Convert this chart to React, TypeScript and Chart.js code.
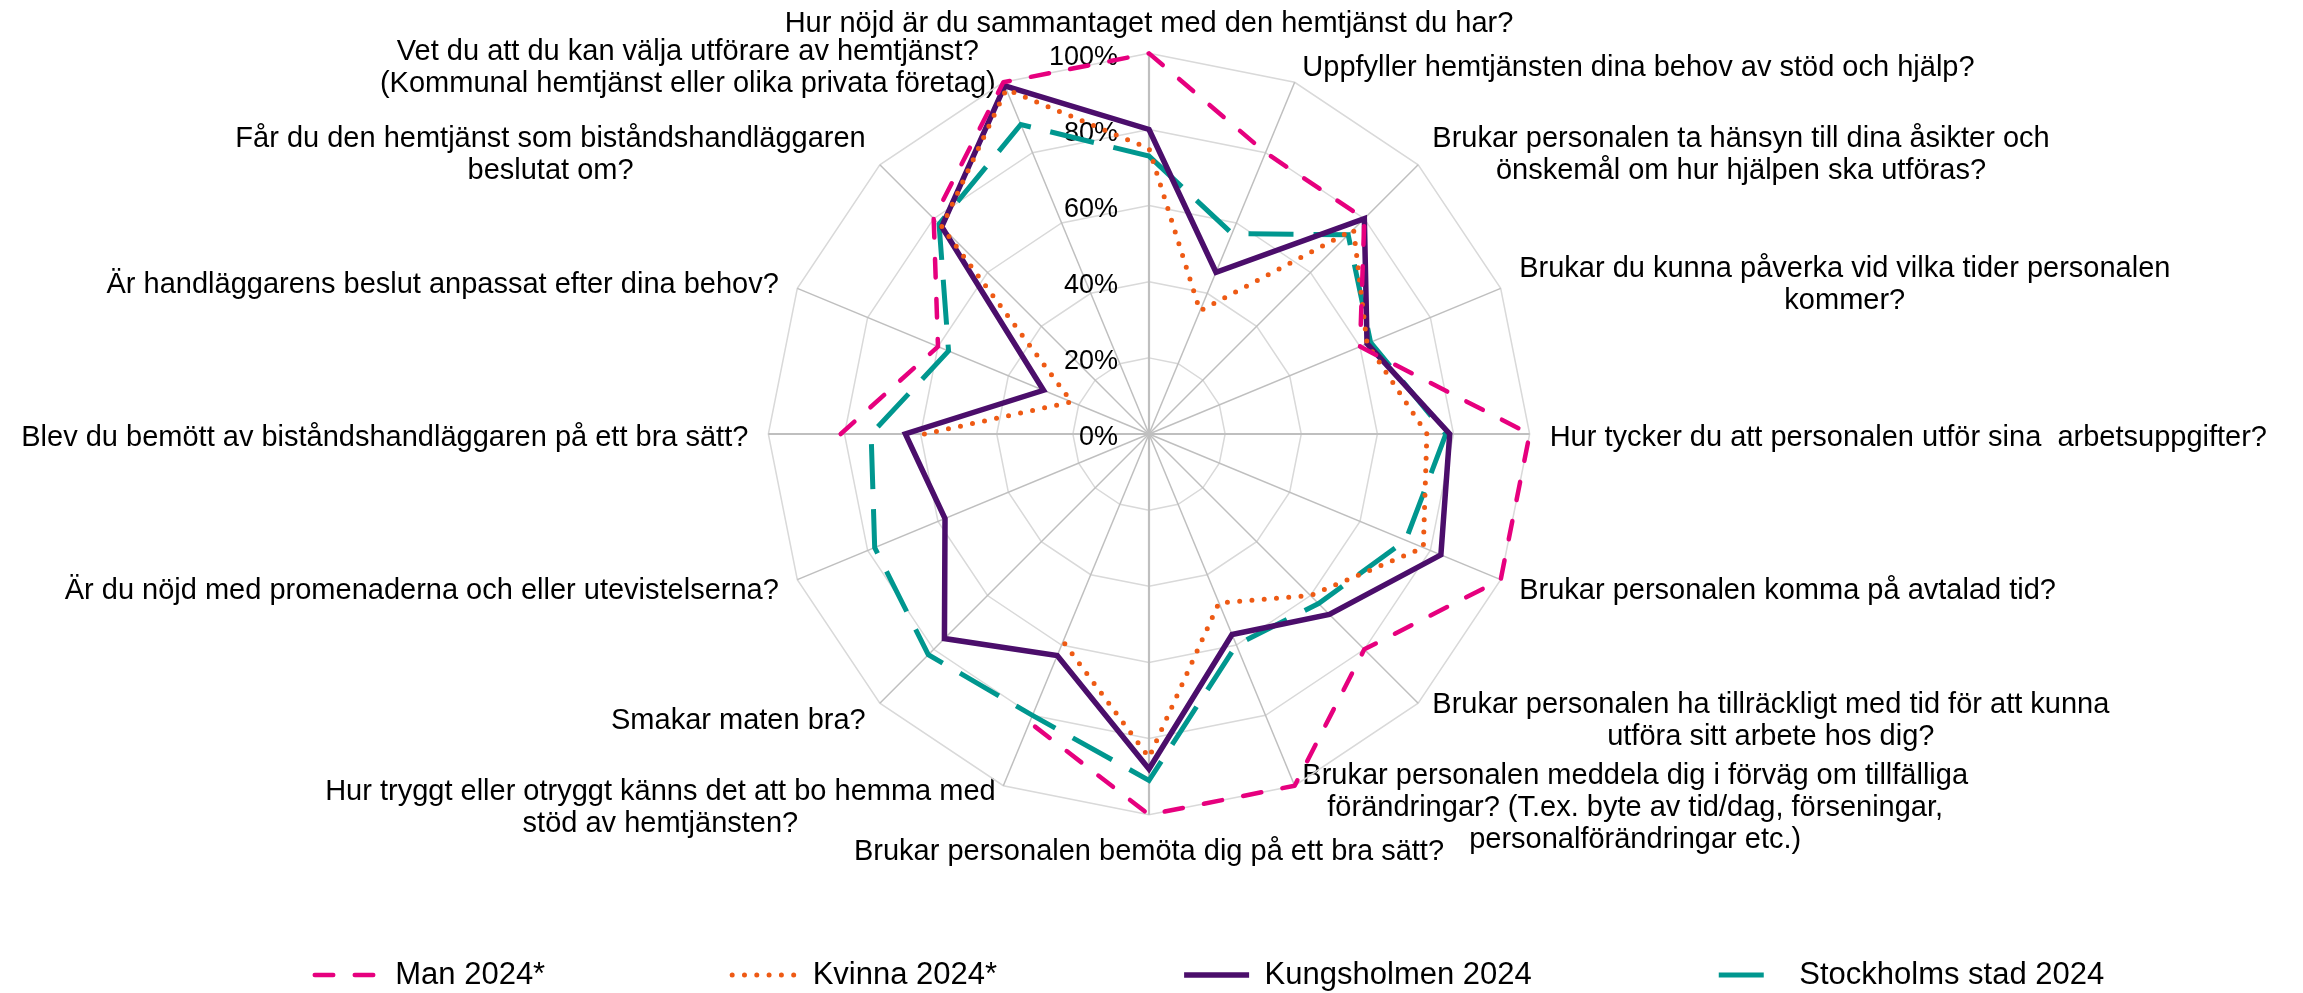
import React, { useEffect, useRef } from 'react';
import { Chart, registerables } from 'chart.js';

Chart.register(...registerables);

// ---------- data ----------
const questions: (string | string[])[] = [
  'Hur nöjd är du sammantaget med den hemtjänst du har?',
  'Uppfyller hemtjänsten dina behov av stöd och hjälp?',
  ['Brukar personalen ta hänsyn till dina åsikter och', 'önskemål om hur hjälpen ska utföras?'],
  ['Brukar du kunna påverka vid vilka tider personalen', 'kommer?'],
  'Hur tycker du att personalen utför sina  arbetsuppgifter?',
  'Brukar personalen komma på avtalad tid?',
  ['Brukar personalen ha tillräckligt med tid för att kunna', 'utföra sitt arbete hos dig?'],
  ['Brukar personalen meddela dig i förväg om tillfälliga', 'förändringar? (T.ex. byte av tid/dag, förseningar,', 'personalförändringar etc.)'],
  'Brukar personalen bemöta dig på ett bra sätt?',
  ['Hur tryggt eller otryggt känns det att bo hemma med', 'stöd av hemtjänsten?'],
  'Smakar maten bra?',
  'Är du nöjd med promenaderna och eller utevistelserna?',
  'Blev du bemött av biståndshandläggaren på ett bra sätt?',
  'Är handläggarens beslut anpassat efter dina behov?',
  ['Får du den hemtjänst som biståndshandläggaren', 'beslutat om?'],
  ['Vet du att du kan välja utförare av hemtjänst?', '(Kommunal hemtjänst eller olika privata företag)'],
];

const seriesNames = ['Man 2024*', 'Kvinna 2024*', 'Kungsholmen 2024', 'Stockholms stad 2024'];

const man2024: (number | null)[] = [100, 80, 80, 60, 100, 100, 80, 100, 100, 82, null, null, 81, 60, 80, 100];
const kvinna2024: (number | null)[] = [75, 35, 76, 62, 73, 78, 60, 48, 85, 59, null, null, 59, 22, 77, 98];
const kungsholmen2024: (number | null)[] = [80, 46, 80, 62, 79, 83, 67, 57, 88, 63, 76, 58, 64, 30, 77, 99];
const stockholm2024: (number | null)[] = [73, 57, 74, 63, 78, 73, 63, 60, 91, 80, 82, 78, 73, 57, 78, 88];

const scaleMin = 0;
const scaleMax = 100;
const scaleStep = 20;
const tickSuffix = '%';

// ---------- styling ----------
const FONT = '"Liberation Sans", Arial, Helvetica, sans-serif';
const LABEL_GAP_SIDE = 20;
const LABEL_GAP_VERT = 17;
const LABEL_Y_SHIFT = 4;
const TICK_X_OFFSET = 31;
const TICK_Y_OFFSET = 4;
const LEGEND_DX = 65;
const LEGEND_TARGET_ITEM_TOP = 959.5;

function placeLabels(scale: any) {
  const items = scale._pointLabelItems;
  if (!items) return;
  const n = items.length;
  scale._pointLabelItems = items.map((it: any, i: number) => {
    const w = it.right - it.left;
    const h = it.bottom - it.top;
    const deg = (360 / n) * i;
    const vertical = deg === 0 || deg === 180;
    const p = scale.getPointPosition(i, scale.drawingArea + (vertical ? LABEL_GAP_VERT : LABEL_GAP_SIDE));
    let cx: number;
    let top: number;
    if (deg === 0) {
      cx = p.x;
      top = p.y - h;
    } else if (deg === 180) {
      cx = p.x;
      top = p.y;
    } else {
      cx = deg < 180 ? p.x + w / 2 : p.x - w / 2;
      top = p.y - h / 2;
    }
    top += LABEL_Y_SHIFT;
    return { ...it, x: cx, y: top, textAlign: 'center', left: cx - w / 2, right: cx + w / 2, top, bottom: top + h };
  });
}

const tickLabelPlugin = {
  id: 'excelTickLabels',
  beforeDatasetsDraw(chart: any) {
    const s = chart.scales.r;
    const ctx = chart.ctx;
    ctx.save();
    ctx.font = `27px ${FONT}`;
    ctx.fillStyle = '#000000';
    ctx.textAlign = 'right';
    ctx.textBaseline = 'middle';
    s.ticks.forEach((t: any) => {
      const d = s.getDistanceFromCenterForValue(t.value);
      ctx.fillText(`${t.value}${tickSuffix}`, s.xCenter - TICK_X_OFFSET, s.yCenter - d + TICK_Y_OFFSET);
    });
    ctx.restore();
  },
};

const legendShiftPlugin = {
  id: 'legendShift',
  afterLayout(chart: any) {
    const lg = chart.legend;
    if (!lg) return;
    const pad = lg.options.labels.padding;
    const dy = LEGEND_TARGET_ITEM_TOP - (lg.top + pad);
    lg.left += LEGEND_DX;
    lg.right += LEGEND_DX;
    lg.top += dy;
    lg.bottom = chart.height;
  },
};

export default function App() {
  const canvasRef = useRef<HTMLCanvasElement | null>(null);

  useEffect(() => {
    if (!canvasRef.current) return;
    const mk = (
      label: string,
      data: (number | null)[],
      color: string,
      width: number,
      dash: number[],
      cap: CanvasLineCap,
      join: CanvasLineJoin
    ) => ({
      label,
      data,
      borderColor: color,
      backgroundColor: color,
      borderWidth: width,
      borderDash: dash,
      borderCapStyle: cap,
      borderJoinStyle: join,
      fill: false,
      pointRadius: 0,
      pointHoverRadius: 0,
      spanGaps: false,
    });

    const chart = new Chart(canvasRef.current, {
      type: 'radar',
      data: {
        labels: questions,
        datasets: [
          mk(seriesNames[0], man2024, '#e6007e', 4.5, [18.5, 21.5], 'round', 'round'),
          mk(seriesNames[1], kvinna2024, '#ee5a14', 5, [0, 12.3], 'round', 'round'),
          mk(seriesNames[2], kungsholmen2024, '#4b0e6b', 5.5, [], 'butt', 'miter'),
          mk(seriesNames[3], stockholm2024, '#00978f', 5, [45, 20], 'butt', 'miter'),
        ],
      } as any,
      options: {
        responsive: false,
        devicePixelRatio: 1,
        animation: false,
        events: [],
        layout: { padding: { top: 0, bottom: 30, left: 0, right: 14 } },
        scales: {
          r: {
            min: scaleMin,
            max: scaleMax,
            ticks: { stepSize: scaleStep, display: false },
            grid: { color: '#d9d9d9', lineWidth: 1.5 },
            angleLines: {
              color: '#bfbfbf',
              lineWidth: (ctx: any) => (ctx.index % 4 === 0 ? 2.2 : 1.5),
            },
            pointLabels: {
              display: true,
              color: '#000000',
              padding: 5,
              font: { family: FONT, size: 29, lineHeight: 1.1 },
            },
            afterFit: placeLabels,
          } as any,
        },
        plugins: {
          tooltip: { enabled: false },
          legend: {
            position: 'bottom',
            maxHeight: 60,
            labels: {
              usePointStyle: true,
              pointStyleWidth: 65,
              padding: 187,
              color: '#000000',
              font: { family: FONT, size: 31 },
              generateLabels: (c: any) =>
                c.data.datasets.map((ds: any, i: number) => ({
                  text: ds.label,
                  fillStyle: ds.borderColor,
                  strokeStyle: ds.borderColor,
                  fontColor: '#000000',
                  lineWidth: ds.borderWidth,
                  lineDash: ds.borderDash,
                  lineCap: ds.borderCapStyle,
                  lineJoin: 'round',
                  pointStyle: 'line',
                  hidden: false,
                  datasetIndex: i,
                })),
            },
          } as any,
        },
      },
      plugins: [tickLabelPlugin, legendShiftPlugin],
    });
    return () => chart.destroy();
  }, []);

  return (
    <div style={{ position: 'fixed', left: 0, top: 0, width: 2303, height: 993, background: '#ffffff' }}>
      <canvas ref={canvasRef} width={2303} height={993} />
    </div>
  );
}
